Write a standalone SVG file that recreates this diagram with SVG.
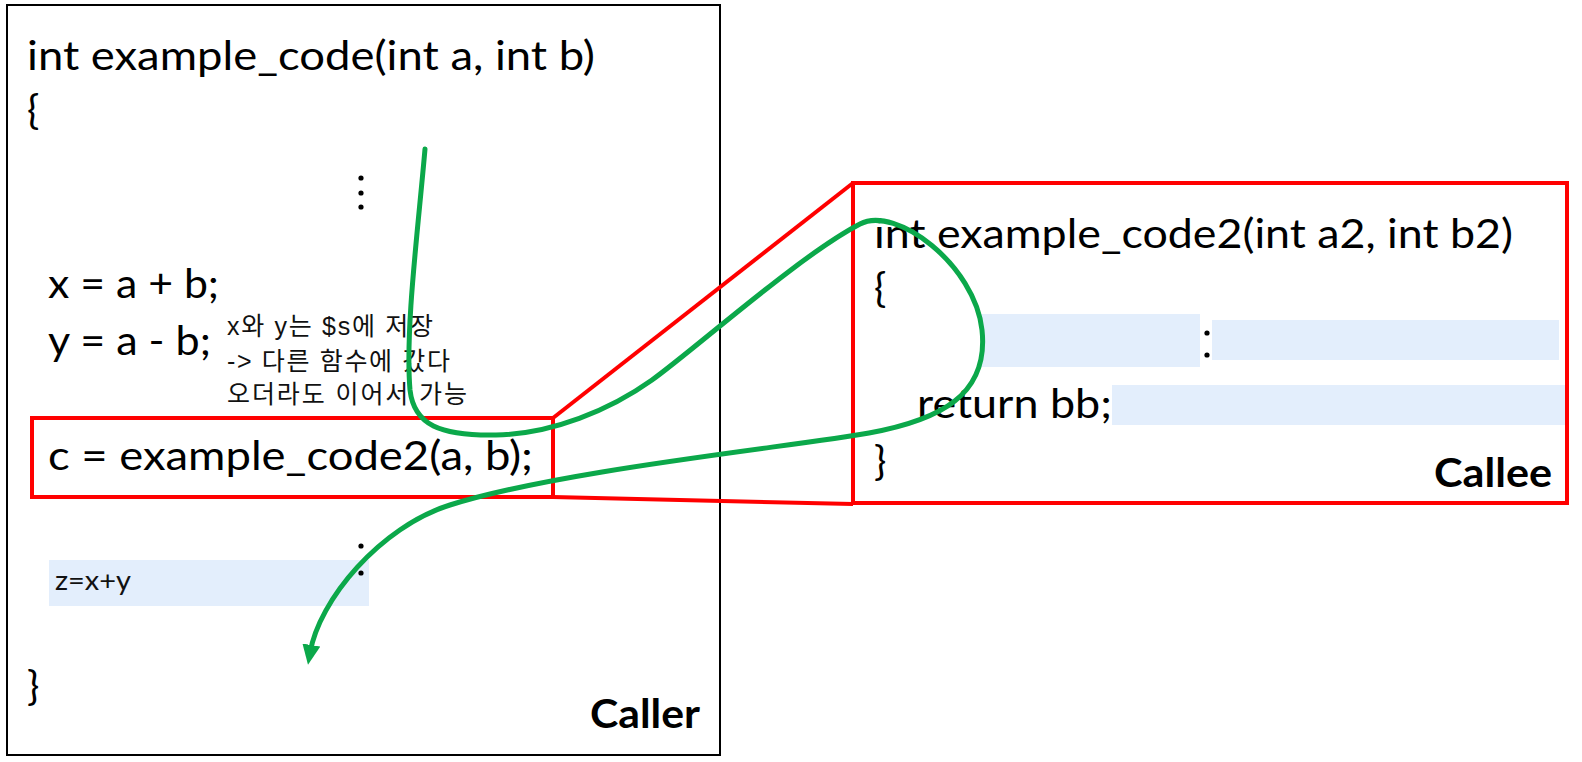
<svg xmlns="http://www.w3.org/2000/svg" width="1582" height="762" viewBox="0 0 1582 762">
<style>
.code{font-family:Lato,"Liberation Sans",sans-serif;font-size:41px;fill:#000}
.lbl{font-family:Lato,"Liberation Sans",sans-serif;font-size:40px;font-weight:bold;fill:#000}
.kr{font-family:"Liberation Sans","Noto Sans CJK KR",sans-serif;font-size:25px;fill:#111}
.small{font-family:Lato,"Liberation Sans",sans-serif;font-size:26px;fill:#111}
.hl{fill:#E3EEFC}
.dot{fill:#000}
.redbox{fill:none;stroke:#FF0000;stroke-width:4}
.red{fill:none;stroke:#FF0000;stroke-width:4}
.flow{fill:none;stroke:#0BA84A;stroke-width:5;stroke-linecap:round}
</style>
<defs>
<marker id="ah" markerUnits="userSpaceOnUse" markerWidth="22" markerHeight="20" refX="8" refY="9" orient="auto">
<path d="M0,0 L20,9 L0,18 Z" fill="#0BA84A"/>
</marker>
</defs>
<rect width="1582" height="762" fill="#fff"/>
<g id="caller">
<rect x="7" y="5" width="713" height="750" fill="none" stroke="#000" stroke-width="2"/>
<text class="code" x="27" y="70" textLength="568" lengthAdjust="spacingAndGlyphs">int example_code(int a, int b)</text>
<text class="code" x="27" y="124">{</text>
<circle class="dot" cx="361" cy="178" r="2.6"/>
<circle class="dot" cx="361" cy="193" r="2.6"/>
<circle class="dot" cx="361" cy="207" r="2.6"/>
<text class="code" x="48" y="298" textLength="171" lengthAdjust="spacingAndGlyphs">x = a + b;</text>
<text class="code" x="48" y="355" textLength="163" lengthAdjust="spacingAndGlyphs">y = a - b;</text>
<text class="kr" x="227" y="335" textLength="206" lengthAdjust="spacing">x와 y는 $s에 저장</text>
<text class="kr" x="227" y="370" textLength="223" lengthAdjust="spacing">-&gt; 다른 함수에 갔다</text>
<text class="kr" x="227" y="403" textLength="240" lengthAdjust="spacing">오더라도 이어서 가능</text>
<rect class="hl" x="49" y="560" width="320" height="46"/>
<circle class="dot" cx="361" cy="546" r="2.6"/>
<circle class="dot" cx="361" cy="573" r="2.6"/>
<text class="small" x="55" y="590" textLength="76" lengthAdjust="spacingAndGlyphs">z=x+y</text>
<text class="code" x="27" y="700">}</text>
<text class="lbl" x="590" y="728" textLength="110" lengthAdjust="spacingAndGlyphs">Caller</text>
</g>
<g id="call-site">
<rect class="redbox" x="32" y="418" width="521" height="79"/>
<text class="code" x="48" y="470" textLength="485" lengthAdjust="spacingAndGlyphs">c = example_code2(a, b);</text>
</g>
<g id="callee">
<rect class="redbox" x="853" y="183" width="714" height="320"/>
<rect class="hl" x="981" y="314" width="219" height="53"/>
<rect class="hl" x="1212" y="320" width="347" height="40"/>
<rect class="hl" x="1112" y="385" width="453" height="40"/>
<text class="code" x="874" y="248" textLength="639" lengthAdjust="spacingAndGlyphs">int example_code2(int a2, int b2)</text>
<text class="code" x="874" y="302">{</text>
<circle class="dot" cx="1207" cy="333" r="2.6"/>
<circle class="dot" cx="1207" cy="355" r="2.6"/>
<text class="code" x="917" y="418" textLength="195" lengthAdjust="spacingAndGlyphs">return bb;</text>
<text class="code" x="874" y="475">}</text>
<text class="lbl" x="1434" y="487" textLength="118" lengthAdjust="spacingAndGlyphs">Callee</text>
</g>
<g id="connectors">
<line class="red" x1="553" y1="418" x2="853" y2="183"/>
<line class="red" x1="553" y1="497" x2="853" y2="504"/>
<path class="flow" marker-end="url(#ah)" d="M425,149 C418,230 405,330 410,390 C414,425 440,436 496,435 C552,434 610,410 652,380 C694,350 800,255 860,224 C896,205 975,265 982,330 C989,395 940,420 869,433 C798,446 560,470 450,505 C380,527 319,600 310,653"/>
</g>
</svg>
